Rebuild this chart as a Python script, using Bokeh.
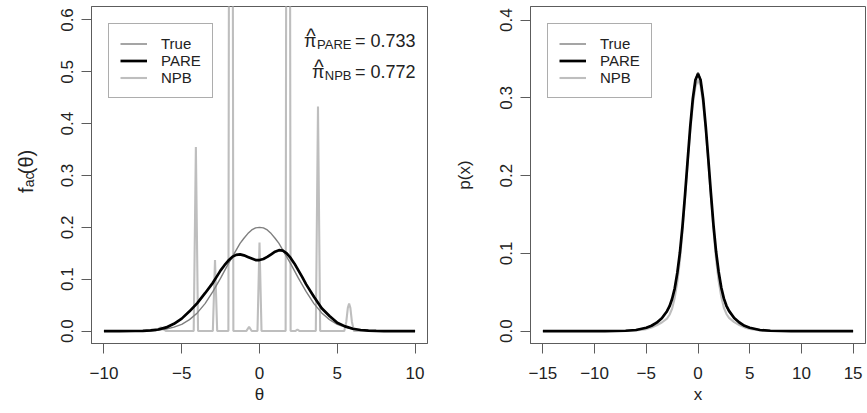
import math
from bokeh.plotting import figure
from bokeh.models import Range1d, FixedTicker, Legend, LegendItem, Label
from bokeh.layouts import row
from bokeh.core.properties import value
from bokeh.embed import file_html
from bokeh.resources import INLINE

# ---------------- data: left panel (f_ac(theta)) ----------------
theta = [-10, -9, -8, -7.5, -7, -6.5, -6, -5.5, -5, -4.5, -4, -3.5,
         -3, -2.75, -2.5, -2.25, -2, -1.75, -1.5, -1.25, -1, -0.75, -0.5, -0.25,
         0, 0.25, 0.5, 0.75, 1, 1.25, 1.5, 1.75, 2, 2.25, 2.5, 2.75, 3,
         3.5, 4, 4.5, 5, 5.5, 6, 6.5, 7, 7.5, 8, 9, 10]
f_true = [0, 0, 0.0002, 0.0005, 0.001, 0.002, 0.004, 0.0076, 0.013, 0.022, 0.035, 0.053,
          0.076, 0.089, 0.102, 0.116, 0.130, 0.143, 0.156, 0.169, 0.179, 0.188, 0.195, 0.199,
          0.200, 0.199, 0.195, 0.188, 0.179, 0.169, 0.156, 0.143, 0.130, 0.116, 0.102, 0.089, 0.076,
          0.053, 0.035, 0.022, 0.013, 0.0076, 0.004, 0.002, 0.001, 0.0005, 0.0002, 0, 0]
f_pare = [0, 0, 0.0001, 0.0004, 0.0012, 0.003, 0.007, 0.014, 0.024, 0.038, 0.054, 0.073,
          0.093, 0.105, 0.117, 0.127, 0.136, 0.143, 0.147, 0.148, 0.146, 0.143, 0.140, 0.137,
          0.137, 0.139, 0.143, 0.148, 0.153, 0.156, 0.155, 0.150, 0.141, 0.130, 0.117, 0.104, 0.090,
          0.066, 0.044, 0.029, 0.016, 0.009, 0.0045, 0.002, 0.0008, 0.0002, 0, 0, 0]
npb_theta = [-10, -6.7, -6.5, -6.35, -6.2, -6.0, -4.23, -4.09, -3.95, -3.0, -2.86, -2.72,
             -2.0, -1.84, -1.68, -0.85, -0.67, -0.5, -0.13, 0.0, 0.13, 1.68, 1.84, 2.0,
             2.3, 2.44, 2.58, 3.62, 3.76, 3.9, 5.45, 5.58, 5.68, 5.76, 5.84, 5.94, 6.07, 10]
f_npb = [0, 0, 0.004, 0.007, 0.004, 0, 0, 0.355, 0, 0, 0.137, 0,
         0, 3.2, 0, 0, 0.008, 0, 0, 0.171, 0, 0, 3.2, 0,
         0, 0.003, 0, 0, 0.433, 0, 0, 0.018, 0.045, 0.053, 0.045, 0.018, 0, 0]

# ---------------- data: right panel (p(x)) ----------------
xs = [-15, -12, -10, -9, -8, -7, -6, -5, -4.5, -4, -3.5,
      -3, -2.75, -2.5, -2.25, -2, -1.75, -1.5, -1.25, -1, -0.75, -0.5, -0.25,
      0, 0.25, 0.5, 0.75, 1, 1.25, 1.5, 1.75, 2, 2.25, 2.5, 2.75, 3,
      3.5, 4, 4.5, 5, 6, 7, 8, 9, 10, 12, 15]
p_true = [0, 0, 0, 0, 0.0001, 0.0004, 0.0015, 0.0044, 0.007, 0.011, 0.0165,
          0.025, 0.0315, 0.041, 0.054, 0.074, 0.0995, 0.133, 0.174, 0.218, 0.261, 0.298, 0.324,
          0.333, 0.324, 0.298, 0.261, 0.218, 0.174, 0.133, 0.0995, 0.074, 0.054, 0.041, 0.0315, 0.025,
          0.0165, 0.011, 0.007, 0.0044, 0.0015, 0.0004, 0.0001, 0, 0, 0, 0]
p_pare = [0, 0, 0, 0, 0.0001, 0.0004, 0.0014, 0.0042, 0.0068, 0.0108, 0.0165,
          0.0255, 0.032, 0.0415, 0.055, 0.075, 0.101, 0.135, 0.176, 0.220, 0.263, 0.299, 0.323,
          0.331, 0.323, 0.299, 0.263, 0.221, 0.177, 0.136, 0.102, 0.076, 0.056, 0.042, 0.0325, 0.026,
          0.0168, 0.011, 0.0068, 0.0042, 0.0014, 0.0004, 0.0001, 0, 0, 0, 0]
p_npb = [0, 0, 0, 0, 0, 0.0002, 0.0008, 0.0025, 0.0045, 0.0075, 0.011,
         0.016, 0.021, 0.029, 0.043, 0.063, 0.091, 0.128, 0.171, 0.215, 0.257, 0.291, 0.314,
         0.323, 0.315, 0.292, 0.258, 0.216, 0.172, 0.129, 0.092, 0.064, 0.044, 0.030, 0.022, 0.017,
         0.0115, 0.0078, 0.0047, 0.0027, 0.0009, 0.0002, 0, 0, 0, 0, 0]

# ---------------- ticks / labels ----------------
left_xticks = [-10, -5, 0, 5, 10]
left_xlabels = ["\u221210", "\u22125", "0", "5", "10"]
left_yticks = [0.0, 0.1, 0.2, 0.3, 0.4, 0.5, 0.6]
left_ylabels = ["0.0", "0.1", "0.2", "0.3", "0.4", "0.5", "0.6"]
right_xticks = [-15, -10, -5, 0, 5, 10, 15]
right_xlabels = ["\u221215", "\u221210", "\u22125", "0", "5", "10", "15"]
right_yticks = [0.0, 0.1, 0.2, 0.3, 0.4]
right_ylabels = ["0.0", "0.1", "0.2", "0.3", "0.4"]
series_names = ["True", "PARE", "NPB"]
pi_pare_text = "= 0.733"
pi_npb_text = "= 0.772"
ylabel_parts = ["f", "ac", "(\u03b8)"]

FONT = "Liberation Sans"
TEXT = "#222222"
FRAME = "#5c5c5c"
C_TRUE = "#7f7f7f"
C_PARE = "#000000"
C_NPB = "#bebebe"
W_TRUE, W_PARE, W_NPB = 1.4, 2.7, 2.1

H_TOTAL = 412
MB_TOP, MB_BOTTOM = 6, 69
TICK_FS = "17px"
LAB_FS = "17px"


def make_fig(width, mb_left, mb_right, xr, yr, xticks, xlabels, yticks, ylabels):
    p = figure(width=width, height=H_TOTAL, output_backend="svg", toolbar_location=None,
               x_range=Range1d(*xr), y_range=Range1d(*yr),
               min_border_left=mb_left, min_border_right=mb_right,
               min_border_top=MB_TOP, min_border_bottom=MB_BOTTOM)
    p.grid.visible = False
    p.outline_line_color = FRAME
    p.outline_line_width = 1
    p.background_fill_color = "white"
    p.border_fill_color = "white"
    for axes in (p.xaxis, p.yaxis):
        axes.axis_line_color = FRAME
        axes.major_tick_line_color = FRAME
        axes.minor_tick_line_color = None
        axes.major_tick_in = 0
        axes.major_tick_out = 10
        axes.major_label_text_font = FONT
        axes.major_label_text_font_size = TICK_FS
        axes.major_label_text_color = TEXT
        axes.axis_label_text_font = FONT
        axes.axis_label_text_font_size = LAB_FS
        axes.axis_label_text_font_style = "normal"
        axes.axis_label_text_color = TEXT
    p.xaxis.ticker = FixedTicker(ticks=xticks)
    p.xaxis.major_label_overrides = dict(zip(xticks, xlabels))
    p.xaxis.major_label_standoff = 13
    p.xaxis.axis_label_standoff = 3
    p.yaxis.ticker = FixedTicker(ticks=yticks)
    p.yaxis.major_label_overrides = dict(zip(yticks, ylabels))
    p.yaxis.major_label_orientation = "vertical"
    p.yaxis.major_label_standoff = 8
    return p


def add_legend(p, renderers):
    items = [LegendItem(label=n, renderers=[r]) for n, r in zip(series_names, renderers)]
    leg = Legend(items=items, location="top_left", margin=17, padding=11, spacing=0,
                 label_height=17, glyph_height=17, glyph_width=27, label_standoff=14,
                 label_text_font=FONT, label_text_font_size="15px", label_text_color=TEXT,
                 border_line_color=FRAME, border_line_width=1,
                 background_fill_color="white", background_fill_alpha=1)
    p.add_layout(leg)


# ---------------- y-label strip for the left panel ----------------
Y_W = 50
p0 = figure(width=Y_W, height=H_TOTAL, output_backend="svg", toolbar_location=None,
            x_range=Range1d(0, Y_W), y_range=Range1d(0, H_TOTAL),
            x_axis_type=None, y_axis_type=None,
            min_border_left=0, min_border_right=0, min_border_top=0, min_border_bottom=0)
p0.grid.visible = False
p0.outline_line_color = None
p0.text(x=[25, 28, 25], y=[184, 191, 207], text=ylabel_parts,
        angle=math.pi / 2, text_font=value(FONT),
        text_font_size=["20px", "14px", "20px"],
        text_color=TEXT, text_align="left", text_baseline="alphabetic")

# ---------------- left figure ----------------
L_W, L_ML, L_MR = 380, 41, 3
p1 = make_fig(L_W, L_ML, L_MR, (-10.8, 10.8), (-0.024, 0.626),
              left_xticks, left_xlabels, left_yticks, left_ylabels)
p1.xaxis.axis_label = "\u03b8"
r_npb = p1.line(npb_theta, f_npb, line_color=C_NPB, line_width=W_NPB)
r_true = p1.line(theta, f_true, line_color=C_TRUE, line_width=W_TRUE)
r_pare = p1.line(theta, f_pare, line_color=C_PARE, line_width=W_PARE)
add_legend(p1, [r_true, r_pare, r_npb])

FW = L_W - L_ML - L_MR
FH = H_TOTAL - MB_TOP - MB_BOTTOM


def lab(p, x, y, text, size, align="left"):
    p.add_layout(Label(x=x, y=y, x_units="screen", y_units="screen", text=text,
                       text_font=FONT, text_font_size=size, text_color=TEXT,
                       text_align=align, text_baseline="alphabetic"))


# pi-hat annotations
y1, y2 = FH - 34, FH - 65
lab(p1, FW - 12, y1, pi_pare_text, "18px", "right")
lab(p1, FW - 76, y1 - 4, "PARE", "13px", "right")
lab(p1, FW - 111, y1, "\u03c0", "18px", "right")
lab(p1, FW - 116.5, y1 + 5, "^", "20px", "center")
lab(p1, FW - 12, y2, pi_npb_text, "18px", "right")
lab(p1, FW - 76, y2 - 4, "NPB", "13px", "right")
lab(p1, FW - 103, y2, "\u03c0", "18px", "right")
lab(p1, FW - 108.5, y2 + 5, "^", "20px", "center")

# ---------------- right figure ----------------
R_W, R_ML, R_MR = 436, 100, 1
p2 = make_fig(R_W, R_ML, R_MR, (-16.2, 16.2), (-0.016, 0.4175),
              right_xticks, right_xlabels, right_yticks, right_ylabels)
p2.xaxis.axis_label = "x"
p2.yaxis.axis_label = "p(x)"
p2.yaxis.axis_label_standoff = 24
q_npb = p2.line(xs, p_npb, line_color=C_NPB, line_width=W_NPB)
q_true = p2.line(xs, p_true, line_color=C_TRUE, line_width=W_TRUE)
q_pare = p2.line(xs, p_pare, line_color=C_PARE, line_width=W_PARE)
add_legend(p2, [q_true, q_pare, q_npb])

layout = row(p0, p1, p2)
open("out.html", "w").write(file_html(layout, INLINE))
